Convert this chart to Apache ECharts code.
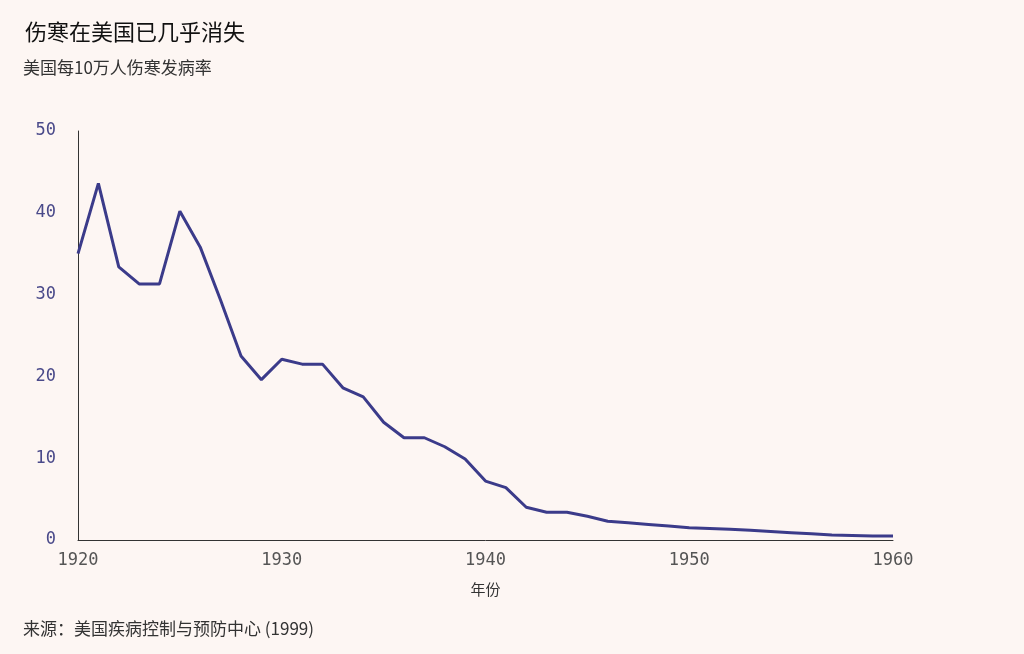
<!DOCTYPE html><html><head><meta charset="utf-8">
<script src="https://cdn.jsdelivr.net/npm/echarts@6/dist/echarts.min.js"></script>
<style>html,body{margin:0;background:#fdf6f3}#c{width:1024px;height:654px}</style></head><body><div id="c"></div>
<script>
const years=[1920,1921,1922,1923,1924,1925,1926,1927,1928,1929,1930,1931,1932,1933,1934,1935,1936,1937,1938,1939,1940,1941,1942,1943,1944,1945,1946,1947,1948,1949,1950,1951,1952,1953,1954,1955,1956,1957,1958,1959,1960];
const rates=[35.0,43.6,33.4,31.3,31.3,40.2,35.8,29.3,22.5,19.6,22.1,21.5,21.5,18.6,17.5,14.4,12.5,12.5,11.4,9.9,7.2,6.4,4.0,3.4,3.4,2.9,2.3,2.1,1.9,1.7,1.5,1.4,1.3,1.2,1.05,0.9,0.75,0.6,0.55,0.5,0.5];
const c=echarts.init(document.getElementById('c'));
const cjk='"Noto Sans CJK SC","Noto Sans",sans-serif';
c.setOption({backgroundColor:'#fdf6f3',
title:[{text:'伤寒在美国已几乎消失',left:20,top:16,textStyle:{fontFamily:cjk,fontSize:22,fontWeight:'normal',color:'#111'}},
{text:'美国每10万人伤寒发病率',left:18,top:54,textStyle:{fontFamily:cjk,fontSize:17,fontWeight:'normal',color:'#333'}},
{text:'来源：美国疾病控制与预防中心 (1999)',left:18,top:615,textStyle:{fontFamily:cjk,fontSize:17,fontWeight:'normal',color:'#333'}}],
grid:{left:78,right:131,top:131,bottom:114},
xAxis:{type:'value',min:1920,max:1960,interval:10,name:'年份',nameLocation:'middle',nameGap:42,nameTextStyle:{fontFamily:cjk,fontSize:15,color:'#333'},
axisLine:{lineStyle:{color:'#333'}},axisTick:{show:false},splitLine:{show:false},
axisLabel:{color:'#555',fontFamily:'"DejaVu Sans Mono",monospace',fontSize:17,margin:12,formatter:v=>String(v)}},
yAxis:{type:'value',min:0,max:50,interval:10,axisLine:{show:true,lineStyle:{color:'#333'}},axisTick:{show:false},splitLine:{show:false},
axisLabel:{color:'#4a4a8a',fontFamily:'"DejaVu Sans Mono",monospace',fontSize:17,margin:22}},
series:[{type:'line',data:years.map((y,i)=>[y,rates[i]]),showSymbol:false,lineStyle:{color:'#3b3b8a',width:3},itemStyle:{color:'#3b3b8a'}}]});
</script></body></html>
